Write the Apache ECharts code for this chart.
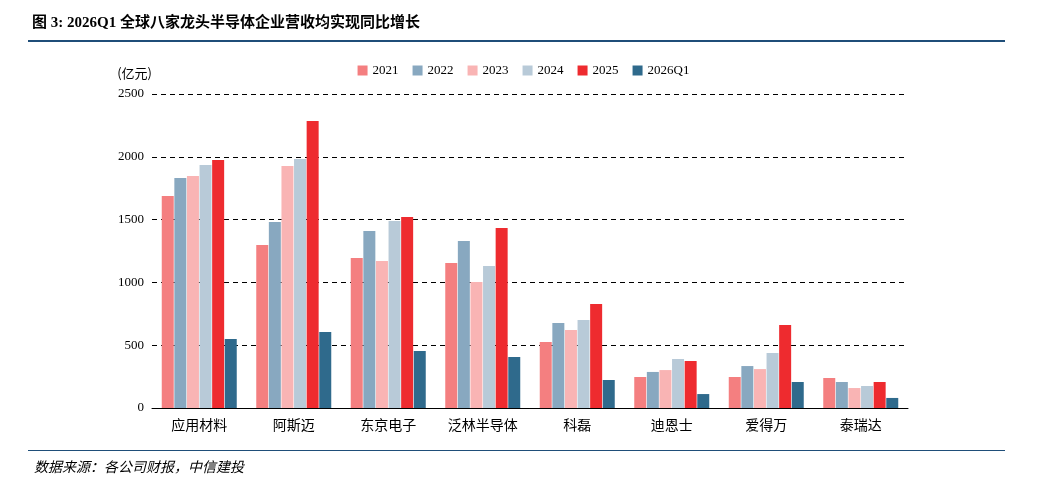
<!DOCTYPE html>
<html><head><meta charset="utf-8">
<script src="https://cdn.jsdelivr.net/npm/echarts@6/dist/echarts.min.js"></script>
<style>
body{margin:0;background:#fff;font-family:"Noto Sans CJK SC",sans-serif;}
#title{position:absolute;left:32px;top:10px;font-size:15px;font-weight:bold;color:#000;font-family:"Liberation Serif","Noto Sans CJK SC",serif;}
#line1{position:absolute;left:28px;top:40px;width:977px;height:2px;background:#1f4e79;}
#line2{position:absolute;left:28px;top:450px;width:977px;height:1px;background:#1f4e79;}
#src{position:absolute;left:34px;top:456px;font-size:14px;font-style:italic;color:#000;}
#chart{position:absolute;left:0;top:0;width:1047px;height:487px;}
</style></head>
<body>
<div id="chart"></div>
<div id="title">图 3: 2026Q1 全球八家龙头半导体企业营收均实现同比增长</div>
<div id="line1"></div>
<div id="line2"></div>
<div id="src">数据来源：各公司财报，中信建投</div>
<script>
// 公司
var companies = ['应用材料','阿斯迈','东京电子','泛林半导体','科磊','迪恩士','爱得万','泰瑞达'];
var years = ['2021','2022','2023','2024','2025','2026Q1'];
// 营收（亿元）
var rev2021 = [1688,1297,1194,1154,525,247,247,239];
var rev2022 = [1831,1480,1409,1329,677,287,334,207];
var rev2023 = [1847,1926,1170,1003,621,302,310,159];
var rev2024 = [1934,1982,1488,1130,700,390,438,175];
var rev2025 = [1974,2285,1520,1433,828,374,661,207];
var rev2026Q1 = [549,605,454,406,223,111,207,80];
var colors = ['#f47f80','#88a8c0','#f9b4b4','#b8cad8','#ee2b2f','#2f6a8c'];

var chart = echarts.init(document.getElementById('chart'));
var data = [rev2021,rev2022,rev2023,rev2024,rev2025,rev2026Q1];
chart.setOption({
  animation:false,
  textStyle:{fontFamily:'"Liberation Serif","Noto Sans CJK SC",serif'},
  legend:{top:59,left:'center',itemWidth:10,itemHeight:10,itemGap:14,icon:'rect',
    textStyle:{fontSize:13,color:'#000',fontFamily:'"Liberation Serif",serif'},data:years},
  grid:{left:152,right:139,top:94,bottom:79},
  xAxis:{type:'category',data:companies,
    axisLine:{lineStyle:{color:'#000'}},axisTick:{show:false},
    axisLabel:{fontSize:14,color:'#000',margin:10,fontFamily:'"Noto Sans CJK SC",sans-serif'}},
  yAxis:{type:'value',min:0,max:2500,interval:500,name:'(亿元)',nameGap:14,
    nameTextStyle:{fontSize:13,color:'#000',align:'right',fontFamily:'"Noto Sans CJK SC",sans-serif'},
    axisLine:{show:false},axisTick:{show:false},
    axisLabel:{fontSize:13,color:'#000',margin:8,fontFamily:'"Liberation Serif",serif',
      formatter:function(v){return String(v);}},
    splitLine:{lineStyle:{color:'#000',type:[5,4]}}},
  series:data.map(function(d,i){
    return {name:years[i],type:'bar',data:d,barWidth:12,barGap:'5%',barCategoryGap:'22%',
      itemStyle:{color:colors[i]}};
  })
});
</script>
</body></html>
